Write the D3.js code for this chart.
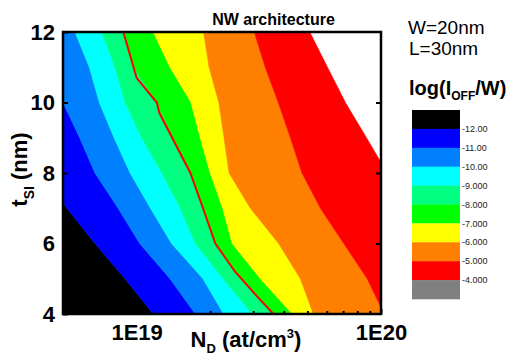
<!DOCTYPE html>
<html>
<head>
<meta charset="utf-8">
<script src="https://cdn.jsdelivr.net/npm/d3@7/dist/d3.min.js"></script>
<style>
  html, body { margin: 0; padding: 0; background: #fff; }
  svg { display: block; }
  text { font-family: "Liberation Sans", Arial, Helvetica, sans-serif; }
</style>
</head>
<body>
<svg id="chart" width="508" height="358"></svg>
<script>
// ---- data ----
// silicon thickness rows (nm)
const tsiRows = [4, 5, 6, 7, 8, 9, 10, 11, 12];
// contour levels of log(IOFF/W)
const levels = [-12, -11, -10, -9, -8, -7, -6, -5, -4];
// N_D (at/cm3) where each level boundary crosses each tsi row
const bM12 = [1.17e19, 8.97e18, 6.76e18, 5.19e18, 4.02e18, 2.92e18, 2.22e18, 1.69e18, 1.28e18];
const bM11 = [1.74e19, 1.37e19, 1.03e19, 8.40e18, 6.76e18, 5.85e18, 5.00e18, 4.34e18, 3.77e18];
const bM10 = [2.27e19, 1.87e19, 1.39e19, 1.14e19, 9.41e18, 8.09e18, 7.04e18, 6.41e18, 5.60e18];
const bM9  = [2.97e19, 2.26e19, 1.74e19, 1.51e19, 1.27e19, 1.05e19, 8.97e18, 8.16e18, 7.20e18];
const bM8  = [3.63e19, 2.68e19, 2.10e19, 1.87e19, 1.66e19, 1.40e19, 1.21e19, 9.74e18, 8.85e18];
const bM7  = [4.33e19, 3.21e19, 2.46e19, 2.25e19, 2.00e19, 1.82e19, 1.67e19, 1.37e19, 1.17e19];
const bM6  = [5.29e19, 4.68e19, 3.81e19, 2.92e19, 2.39e19, 2.28e19, 2.17e19, 1.98e19, 1.88e19];
const bM5  = [1.03e20, 8.78e19, 7.04e19, 5.65e19, 4.75e19, 4.26e19, 3.80e19, 3.36e19, 3.03e19];
const bM4  = [2.14e20, 1.79e20, 1.49e20, 1.25e20, 1.06e20, 8.72e19, 7.15e19, 6.04e19, 5.11e19];
// red highlighted contour
const redLineND  = [8.83e18, 1.00e19, 1.21e19, 1.24e19, 1.66e19, 1.87e19, 2.10e19, 2.53e19, 3.11e19, 3.63e19];
const redLineTsi = [12, 10.7, 10, 9.7, 8, 7, 6, 5.2, 4.5, 4];
// colour bands (below -12 ... above -4)
const bandColors = ["#000000", "#0000ff", "#0080ff", "#00ffff", "#00ff80",
                    "#00ff00", "#ffff00", "#ff8000", "#ff0000", "#808080"];
const legendLabels = ["-12.00", "-11.00", "-10.00", "-9.000", "-8.000",
                      "-7.000", "-6.000", "-5.000", "-4.000"];
const yTicks = [4, 6, 8, 10, 12];
const xMajorTicks = [1e19, 1e20];
const xMajorLabels = ["1E19", "1E20"];
const xMinorTicks = [6e18, 7e18, 8e18, 9e18, 2e19, 3e19, 4e19, 5e19, 6e19, 7e19, 8e19, 9e19];

// ---- layout ----
const svg = d3.select("#chart");
const L = 63, R = 381, T = 32, B = 314;
const x = d3.scaleLog().domain([5e18, 1e20]).range([L, R]);
const y = d3.scaleLinear().domain([4, 12]).range([B, T]);

svg.append("defs").append("clipPath").attr("id", "plotClip")
  .append("rect").attr("x", L).attr("y", T).attr("width", R - L).attr("height", B - T);

const plot = svg.append("g").attr("clip-path", "url(#plotClip)");
plot.append("rect").attr("x", L).attr("y", T).attr("width", R - L).attr("height", B - T).attr("fill", "#fff");

const boundaries = [bM12, bM11, bM10, bM9, bM8, bM7, bM6, bM5, bM4];
const area = d3.area()
  .x0(d => d.lo == null ? L - 20 : x(d.lo))
  .x1(d => x(d.hi))
  .y(d => y(d.t));

boundaries.forEach((hi, i) => {
  const lo = i === 0 ? null : boundaries[i - 1];
  const rows = tsiRows.map((t, k) => ({ t: t, lo: lo ? lo[k] : null, hi: hi[k] }));
  plot.append("path").attr("d", area(rows)).attr("fill", bandColors[i])
    .attr("stroke", bandColors[i]).attr("stroke-width", 0.6);
});

const redPts = redLineND.map((n, k) => [n, redLineTsi[k]]);
plot.append("path")
  .attr("d", d3.line().x(d => x(d[0])).y(d => y(d[1]))(redPts))
  .attr("fill", "none").attr("stroke", "#ff0000").attr("stroke-width", 2);

// ---- axes ----
const yAxis = svg.append("g").attr("transform", `translate(${L},0)`)
  .call(d3.axisLeft(y).tickValues(yTicks).tickSize(-5).tickPadding(8).tickFormat(d3.format("d")));
yAxis.selectAll("text").attr("font-size", 22).attr("font-weight", "bold").attr("fill", "#000")
  .style("font-family", "'Liberation Sans', Arial, sans-serif");

const yAxisR = svg.append("g").attr("transform", `translate(${R},0)`)
  .call(d3.axisRight(y).tickValues([6, 8, 10]).tickSize(-5).tickFormat(""));

const xMinor = svg.append("g").attr("transform", `translate(0,${B})`)
  .call(d3.axisBottom(x).tickValues(xMinorTicks).tickSize(-3).tickFormat(""));
const xMajor = svg.append("g").attr("transform", `translate(0,${B})`)
  .call(d3.axisBottom(x).tickValues(xMajorTicks).tickSize(-5).tickPadding(10)
        .tickFormat((d, i) => xMajorLabels[i]));
xMajor.selectAll("text").attr("font-size", 22).attr("font-weight", "bold").attr("fill", "#000")
  .style("font-family", "'Liberation Sans', Arial, sans-serif");

[yAxis, yAxisR, xMinor, xMajor].forEach(g => {
  g.select(".domain").remove();
  g.selectAll(".tick line").attr("stroke", "#000").attr("stroke-width", 2);
});

svg.append("rect").attr("x", L).attr("y", T).attr("width", R - L).attr("height", B - T)
  .attr("fill", "none").attr("stroke", "#000").attr("stroke-width", 2.5);

// ---- titles ----
svg.append("text").attr("x", 273.5).attr("y", 25).attr("text-anchor", "middle")
  .attr("font-size", 16).attr("font-weight", "bold").text("NW architecture");

const xt = svg.append("text").attr("x", 246).attr("y", 347).attr("text-anchor", "middle")
  .attr("font-size", 22).attr("font-weight", "bold");
xt.append("tspan").text("N");
xt.append("tspan").attr("font-size", 13).attr("dy", 6).text("D");
xt.append("tspan").attr("dy", -6).text(" (at/cm");
xt.append("tspan").attr("font-size", 13).attr("dy", -9).text("3");
xt.append("tspan").attr("dy", 9).text(")");

const yt = svg.append("text").attr("transform", "translate(27,169.5) rotate(-90)")
  .attr("text-anchor", "middle").attr("font-size", 22).attr("font-weight", "bold");
yt.append("tspan").text("t");
yt.append("tspan").attr("font-size", 14).attr("dy", 7).text("SI");
yt.append("tspan").attr("dy", -7).text(" (nm)");

// ---- right-side annotations ----
svg.append("text").attr("x", 408).attr("y", 33.5).attr("font-size", 19).text("W=20nm");
svg.append("text").attr("x", 409).attr("y", 55).attr("font-size", 19).text("L=30nm");
const lt = svg.append("text").attr("x", 409).attr("y", 95).attr("font-size", 20).attr("font-weight", "bold");
lt.append("tspan").text("log(I");
lt.append("tspan").attr("font-size", 12).attr("dy", 5).text("OFF");
lt.append("tspan").attr("dy", -5).text("/W)");

// ---- colour legend ----
const lgX = 412, lgW = 48, lgTop = 110, lgH = 18.9;
const lgY = d3.scaleLinear().domain([0, bandColors.length]).range([lgTop, lgTop + lgH * bandColors.length]);
svg.append("g").selectAll("rect").data(bandColors).join("rect")
  .attr("x", lgX).attr("y", (d, i) => lgY(i)).attr("width", lgW)
  .attr("height", (d, i) => lgY(i + 1) - lgY(i) + 0.3).attr("fill", d => d);
svg.append("g").selectAll("text").data(legendLabels).join("text")
  .attr("x", lgX + lgW + 2).attr("y", (d, i) => lgY(i + 1)).attr("dy", "0.35em")
  .attr("font-size", 9).attr("fill", "#222").text(d => d);
</script>
</body>
</html>
